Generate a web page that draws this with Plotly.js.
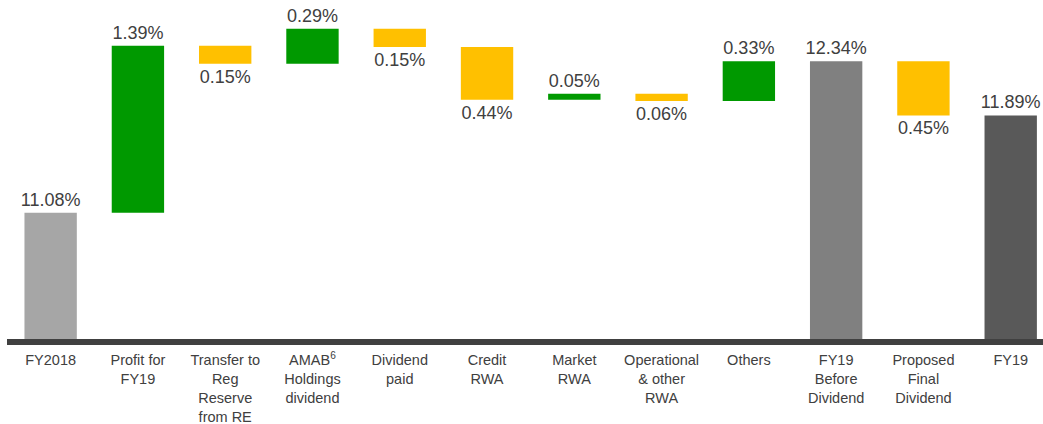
<!DOCTYPE html>
<html>
<head>
<meta charset="utf-8">
<script src="https://cdn.plot.ly/plotly-3.0.1.min.js"></script>
<style>html,body{margin:0;padding:0;background:#fff;}#chart{width:1043px;height:424px;}</style>
</head>
<body>
<div id="chart"></div>
<script>
// ---- data ----
const categories = [
  "FY2018",
  "Profit for<br>FY19",
  "Transfer to<br>Reg<br>Reserve<br>from RE",
  "AMAB<sup>6</sup><br>Holdings<br>dividend",
  "Dividend<br>paid",
  "Credit<br>RWA",
  "Market<br>RWA",
  "Operational<br>& other<br>RWA",
  "Others",
  "FY19<br>Before<br>Dividend",
  "Proposed<br>Final<br>Dividend",
  "FY19"
];
const values = [11.08, 1.39, -0.15, 0.29, -0.15, -0.44, 0.05, -0.06, 0.33, 12.34, -0.45, 11.89];
const kinds  = ["total","relative","relative","relative","relative","relative","relative","relative","relative","total","relative","total"];

// ---- styles ----
const yMin = 10.03;
const totalColors = ["#A6A6A6", "#808080", "#595959"];
const upColor = "#009900";
const downColor = "#FFC000";
const textColor = "#404040";

// ---- build floating bars ----
let running = 0, totalIdx = 0;
const xs = [], ys = [], bases = [], colors = [], texts = [];
categories.forEach((c, i) => {
  const v = values[i];
  xs.push(i);
  if (kinds[i] === "total") {
    bases.push(yMin);
    ys.push(v - yMin);
    running = v;
    colors.push(totalColors[totalIdx++]);
  } else {
    bases.push(running);
    ys.push(v);
    running = running + v;
    colors.push(v >= 0 ? upColor : downColor);
  }
  texts.push(Math.abs(v).toFixed(2) + "%");
});

const trace = {
  type: "bar",
  x: xs,
  y: ys,
  base: bases,
  width: 0.6,
  marker: { color: colors, line: { width: 0 } },
  text: texts,
  textposition: "outside",
  constraintext: "none",
  cliponaxis: false,
  textfont: { family: "Liberation Sans, Arial, sans-serif", size: 18, color: textColor },
  hoverinfo: "skip"
};

const layout = {
  width: 1043,
  height: 424,
  margin: { l: 7, r: 0, t: 0, b: 85, pad: 0 },
  paper_bgcolor: "#ffffff",
  plot_bgcolor: "#ffffff",
  showlegend: false,
  font: { family: "Liberation Sans, Arial, sans-serif", color: textColor },
  xaxis: {
    range: [-0.5, 11.37],
    tickmode: "array",
    tickvals: xs,
    ticktext: categories,
    showgrid: false,
    zeroline: false,
    showline: true,
    linecolor: "#404040",
    linewidth: 6,
    ticks: "",
    ticklabelstandoff: 3,
    tickfont: { size: 14.5, color: textColor, family: "Liberation Sans, Arial, sans-serif" },
    fixedrange: true
  },
  yaxis: {
    range: [yMin, 12.85],
    visible: false,
    showgrid: false,
    zeroline: false,
    fixedrange: true
  }
};

Plotly.newPlot("chart", [trace], layout, { displayModeBar: false, staticPlot: true });
</script>
</body>
</html>
